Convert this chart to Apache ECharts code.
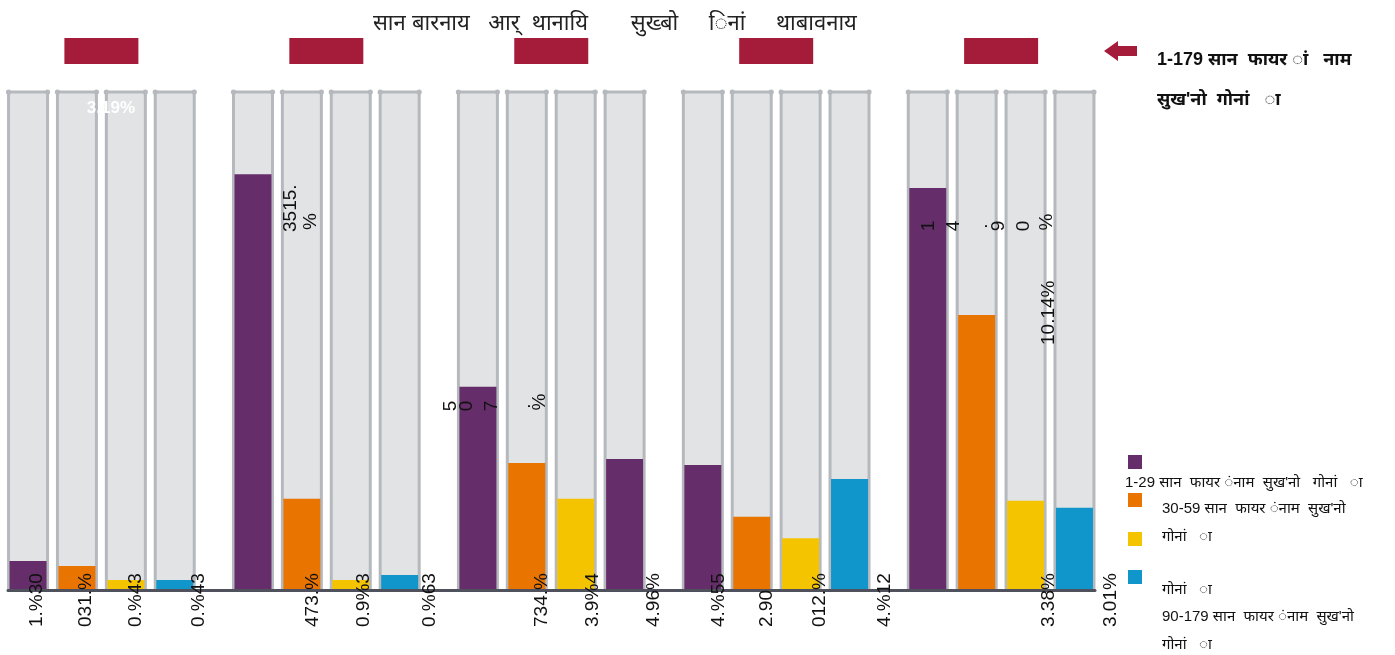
<!DOCTYPE html>
<html><head><meta charset="utf-8">
<script src="https://cdn.jsdelivr.net/npm/echarts@6/dist/echarts.min.js"></script>
<style>html,body{margin:0;padding:0;background:#fff}#c{width:1395px;height:655px}</style>
</head><body><div id="c"></div>
<script>
// ---------- DATA ----------
const titleText = 'सान बारनाय   आर्  थानायि       सुख्बो     िनां     थाबावनाय';
const groupCount = 5;
const seriesNames = ['1-29 सान फायर ंनाम सुख\'नो गोनां ा', '30-59 सान फायर ंनाम सुख\'नो गोनां ा', '60-89 सान फायर ंनाम सुख\'नो गोनां ा', '90-179 सान फायर ंनाम सुख\'नो गोनां ा'];
const s1 = [5.8, 83.5, 40.8, 25.1, 80.7];
const s2 = [4.8, 18.3, 25.5, 14.7, 55.2];
const s3 = [2.0, 2.0, 18.3, 10.4, 17.9];
const s4 = [2.0, 3.0, 26.3, 22.3, 16.5];
const bottomLabels = ['1.%30','031.%','0.%43','0.%43','473.%','0.9%3','0.%63','734.%','3.9%4','4.96%','4.%55','2.90','012.%','4.%12','3.38%','3.01%'];
const upperLabels = ['3.19%','3515.','%','5','0','7','.','%','1','4','.','9','0','%','10.14%'];
const headerLine1 = '1-179 सान  फायर ां   नाम';
const headerLine2 = 'सुख\'नो  गोनां   ा';
const legendLines = ['1-29 सान  फायर ंनाम  सुख\'नो   गोनां   ा', '30-59 सान  फायर ंनाम  सुख\'नो', 'गोनां   ा', 'गोनां   ा', '90-179 सान  फायर ंनाम  सुख\'नो', 'गोनां   ा'];

// ---------- LAYOUT (not data) ----------
const GROUP_STEP = 4.6;               // slot units between group starts
const pos = (g, i) => g * GROUP_STEP + i;
// [group, slot, dx px]
const bottomLabelAt = [[0,0,8.5],[0,1,9],[0,2,10],[0,3,24],[1,1,11],[1,2,13],[1,3,30],[2,1,15],[2,2,17],[2,3,29],[3,0,16],[3,1,15],[3,2,19],[3,3,35],[4,2,23],[4,3,36]];
// [group, slot, dx px, y px, rotated?, mode]  mode: 'white','bottom','center'
const upperLabelAt = [
  [0,1,34,108,false,'white'],
  [1,0,38,232,true,'bottom'],[1,0,58,230,true,'bottom'],
  [2,0,-27,406,true,'center'],[2,0,-11,406,true,'center'],[2,0,14,406,true,'center'],[2,0,47,406,true,'center'],[2,0,62,402,true,'center'],
  [4,0,1,226,true,'center'],[4,0,26,226,true,'center'],[4,0,54,226,true,'center'],[4,0,71,226,true,'center'],[4,0,96,226,true,'center'],[4,0,119,222,true,'center'],
  [4,2,23,345,true,'bottom']
];

const COLORS = ['#652d6a', '#e97400', '#f5c400', '#1196cb'];
const FONT = "'Liberation Sans', 'Noto Sans', Arial, sans-serif";

const slots = [];
for (let g = 0; g < groupCount; g++) for (let i = 0; i < 4; i++) slots.push([pos(g, i)]);
const groupsCenters = [];
for (let g = 0; g < groupCount; g++) groupsCenters.push([pos(g, 1.5)]);

function barData(arr, slot, overrides) {
  return arr.map((v, g) => {
    const d = { value: [pos(g, slot), v] };
    if (overrides && overrides[g]) d.itemStyle = { color: overrides[g] };
    return d;
  });
}

const chart = echarts.init(document.getElementById('c'), null, { renderer: 'canvas' });
const option = {
  animation: false,
  backgroundColor: '#fff',
  title: {
    text: titleText, left: 368, top: 8,
    textStyle: { fontFamily: FONT, fontSize: 22, fontWeight: 'normal', color: '#222' }
  },
  grid: { left: 8, right: 300, top: 92, bottom: 65, containLabel: false },
  xAxis: {
    type: 'value', min: -0.41, max: pos(4, 3) + 0.42, z: 5,
    axisLine: { show: true, lineStyle: { color: '#4f515d', width: 3 } },
    axisTick: { show: false }, axisLabel: { show: false }, splitLine: { show: false }
  },
  yAxis: {
    type: 'value', min: 0, max: 100,
    axisLine: { show: false }, axisTick: { show: false }, axisLabel: { show: false }, splitLine: { show: false }
  },
  series: [
    {
      type: 'custom', z: 1, clip: false, silent: true,
      data: slots,
      renderItem: function (params, api) {
        const p = api.value(0);
        const b = api.coord([p, 0]);
        const t = api.coord([p, 100]);
        const x = b[0], hw = 19.5, stroke = '#b5b9bd';
        return {
          type: 'group', children: [
            { type: 'rect', shape: { x: x - hw, y: t[1], width: hw * 2, height: b[1] - t[1] }, style: { fill: '#e2e3e5' } },
            { type: 'line', shape: { x1: x - hw, y1: t[1], x2: x - hw, y2: b[1] }, style: { stroke: stroke, lineWidth: 3 } },
            { type: 'line', shape: { x1: x + hw, y1: t[1], x2: x + hw, y2: b[1] }, style: { stroke: stroke, lineWidth: 3 } },
            { type: 'line', shape: { x1: x - hw, y1: t[1], x2: x + hw, y2: t[1] }, style: { stroke: stroke, lineWidth: 3 } },
            { type: 'circle', shape: { cx: x - hw, cy: t[1], r: 2.6 }, style: { fill: stroke } },
            { type: 'circle', shape: { cx: x + hw, cy: t[1], r: 2.6 }, style: { fill: stroke } }
          ]
        };
      }
    },
    {
      type: 'custom', z: 1, clip: false, silent: true,
      data: groupsCenters,
      renderItem: function (params, api) {
        const c = api.coord([api.value(0), 100]);
        return { type: 'rect', shape: { x: c[0] - 37, y: c[1] - 54, width: 74, height: 26 }, style: { fill: '#a51c3b' } };
      }
    },
    { name: seriesNames[0], type: 'bar', z: 2, barWidth: 37, barGap: '-100%', data: barData(s1, 0), itemStyle: { color: COLORS[0] } },
    { name: seriesNames[1], type: 'bar', z: 2, barWidth: 37, barGap: '-100%', data: barData(s2, 1), itemStyle: { color: COLORS[1] } },
    { name: seriesNames[2], type: 'bar', z: 2, barWidth: 37, barGap: '-100%', data: barData(s3, 2), itemStyle: { color: COLORS[2] } },
    { name: seriesNames[3], type: 'bar', z: 2, barWidth: 37, barGap: '-100%', data: barData(s4, 3, { 2: COLORS[0] }), itemStyle: { color: COLORS[3] } },
    {
      type: 'custom', z: 6, clip: false, silent: true,
      data: bottomLabels.map((t, k) => [k]),
      renderItem: function (params, api) {
        const k = params.dataIndex, L = bottomLabelAt[k];
        const c = api.coord([pos(L[0], L[1]), 0]);
        return {
          type: 'text', x: c[0] + L[2], y: 627, rotation: Math.PI / 2,
          style: { text: bottomLabels[k], fill: '#111', font: '19px ' + FONT, align: 'left', verticalAlign: 'middle' }
        };
      }
    },
    {
      type: 'custom', z: 6, clip: false, silent: true,
      data: upperLabels.map((t, k) => [k]),
      renderItem: function (params, api) {
        const k = params.dataIndex, L = upperLabelAt[k];
        const c = api.coord([pos(L[0], L[1]), 0]);
        if (L[5] === 'white') {
          return { type: 'text', x: c[0] + L[2], y: L[3],
            style: { text: upperLabels[k], fill: '#fff', font: 'bold 17px ' + FONT, align: 'center', verticalAlign: 'middle' } };
        }
        return {
          type: 'text', x: c[0] + L[2], y: L[3], rotation: Math.PI / 2,
          style: { text: upperLabels[k], fill: '#111', font: '19px ' + FONT,
            align: L[5] === 'bottom' ? 'left' : 'center', verticalAlign: 'middle' }
        };
      }
    }
  ],
  graphic: [
    { type: 'polygon', shape: { points: [[1104, 51], [1118, 41], [1118, 46], [1137, 46], [1137, 56], [1118, 56], [1118, 61]] }, style: { fill: '#a51c3b' } },
    { type: 'text', x: 1157, y: 60, style: { text: headerLine1, fill: '#111', font: 'bold 18px ' + FONT, verticalAlign: 'middle' } },
    { type: 'text', x: 1157, y: 100, style: { text: headerLine2, fill: '#111', font: 'bold 18px ' + FONT, verticalAlign: 'middle' } },
    { type: 'rect', shape: { x: 1128, y: 455, width: 14, height: 14 }, style: { fill: COLORS[0] } },
    { type: 'rect', shape: { x: 1128, y: 493, width: 14, height: 14 }, style: { fill: COLORS[1] } },
    { type: 'rect', shape: { x: 1128, y: 532, width: 14, height: 14 }, style: { fill: COLORS[2] } },
    { type: 'rect', shape: { x: 1128, y: 570, width: 14, height: 14 }, style: { fill: COLORS[3] } },
    { type: 'text', x: 1125, y: 483, style: { text: legendLines[0], fill: '#111', font: '15px ' + FONT, verticalAlign: 'middle' } },
    { type: 'text', x: 1162, y: 509, style: { text: legendLines[1], fill: '#111', font: '15px ' + FONT, verticalAlign: 'middle' } },
    { type: 'text', x: 1162, y: 537, style: { text: legendLines[2], fill: '#111', font: '15px ' + FONT, verticalAlign: 'middle' } },
    { type: 'text', x: 1162, y: 590, style: { text: legendLines[3], fill: '#111', font: '15px ' + FONT, verticalAlign: 'middle' } },
    { type: 'text', x: 1162, y: 617, style: { text: legendLines[4], fill: '#111', font: '15px ' + FONT, verticalAlign: 'middle' } },
    { type: 'text', x: 1162, y: 645, style: { text: legendLines[5], fill: '#111', font: '15px ' + FONT, verticalAlign: 'middle' } }
  ]
};
chart.setOption(option);
</script></body></html>
